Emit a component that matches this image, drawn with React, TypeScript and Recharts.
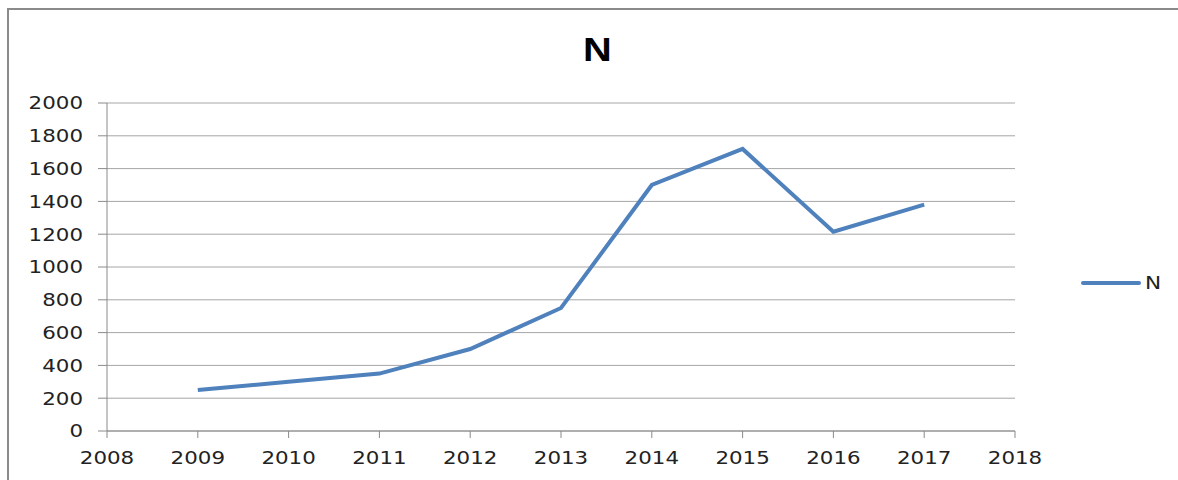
import { LineChart, Line, XAxis, YAxis, CartesianGrid, Legend } from 'recharts';

const years = [2009, 2010, 2011, 2012, 2013, 2014, 2015, 2016, 2017];
const values = [250, 300, 350, 500, 750, 1500, 1720, 1215, 1380];
const xTicks = [2008, 2009, 2010, 2011, 2012, 2013, 2014, 2015, 2016, 2017, 2018];
const yTicks = [0, 200, 400, 600, 800, 1000, 1200, 1400, 1600, 1800, 2000];

const data = years.map((year, i) => ({ year, N: values[i] }));

// the source image is stretched sideways, so the labels are widened a bit
const DIGIT_W = 13.6;

function StretchTick(props: any) {
  const { x, y, payload, textAnchor, shift } = props;
  const label = String(payload.value);
  return (
    <text
      x={x}
      y={y}
      dy={shift}
      textAnchor={textAnchor}
      fontFamily="DejaVu Sans"
      fontSize={17.5}
      fill="#222"
      textLength={label.length * DIGIT_W}
      lengthAdjust="spacingAndGlyphs"
    >
      {label}
    </text>
  );
}

function LegendBox() {
  return (
    <div style={{ display: 'flex', alignItems: 'center', fontFamily: 'DejaVu Sans', fontSize: 18, color: '#222' }}>
      <svg width={64} height={12}>
        <line x1={4} y1={6} x2={60} y2={6} stroke="#4F81BD" strokeWidth={4} strokeLinecap="round" />
      </svg>
      <span style={{ marginLeft: 2, display: 'inline-block', transform: 'scaleX(1.2)', transformOrigin: 'left' }}>N</span>
    </div>
  );
}

export default function App() {
  return (
    <div style={{ position: 'absolute', left: 0, top: 0, width: 1178, height: 480, background: '#fff', overflow: 'hidden' }}>
      {/* frame of the embedded chart, runs off the right and bottom */}
      <div
        style={{
          position: 'absolute',
          left: 7,
          top: 8,
          width: 1171,
          height: 472,
          borderLeft: '2px solid #8a8a8a',
          borderTop: '2px solid #8a8a8a',
          boxSizing: 'border-box',
        }}
      />
      <div
        style={{
          position: 'absolute',
          top: 30,
          left: 0,
          width: 1178,
          paddingLeft: 17,
          boxSizing: 'border-box',
          textAlign: 'center',
          fontFamily: 'Liberation Sans',
          fontWeight: 'bold',
          fontSize: 34,
          color: '#000',
        }}
      >
        <span style={{ display: 'inline-block', transform: 'scaleX(1.17)' }}>N</span>
      </div>
      <LineChart
        width={1178}
        height={480}
        data={data}
        margin={{ top: 103, right: 73, bottom: 0, left: 0 }}
        style={{ position: 'absolute', left: 0, top: 0 }}
      >
        <CartesianGrid vertical={false} stroke="#a6a6a6" strokeWidth={1} />
        <XAxis
          dataKey="year"
          type="number"
          domain={[2008, 2018]}
          ticks={xTicks}
          interval={0}
          height={49}
          stroke="#8a8a8a"
          tickSize={7}
          tickMargin={13}
          tick={<StretchTick shift="0.75em" />}
        />
        <YAxis
          domain={[0, 2000]}
          ticks={yTicks}
          interval={0}
          width={107}
          stroke="#8a8a8a"
          tickSize={9}
          tickMargin={15}
          tick={<StretchTick shift="0.36em" />}
        />
        <Legend
          layout="vertical"
          align="right"
          verticalAlign="top"
          content={() => <LegendBox />}
          wrapperStyle={{ position: 'absolute', left: 1079, top: 272, width: 90 }}
        />
        <Line
          type="linear"
          dataKey="N"
          stroke="#4F81BD"
          strokeWidth={4}
          dot={false}
          activeDot={false}
          isAnimationActive={false}
        />
      </LineChart>
    </div>
  );
}
